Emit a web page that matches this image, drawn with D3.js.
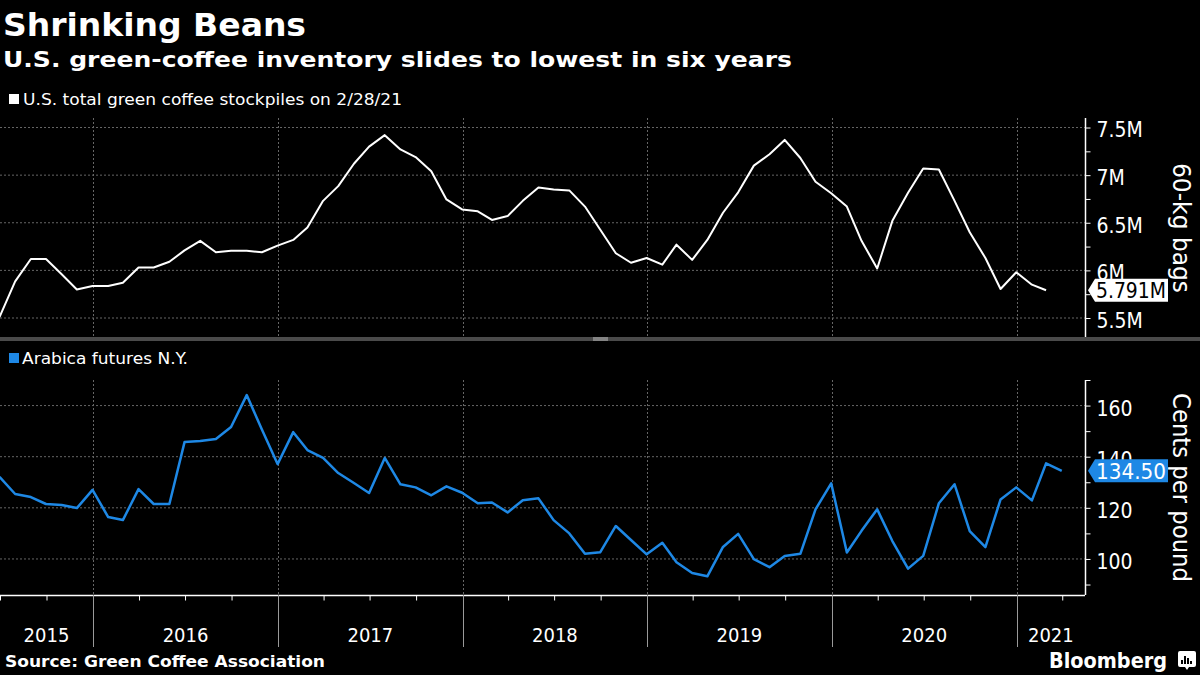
<!DOCTYPE html>
<html>
<head>
<meta charset="utf-8">
<script src="https://cdn.jsdelivr.net/npm/d3@7"></script>
<style>
  html, body { margin: 0; padding: 0; background: #000; }
  svg { display: block; }
  text { font-family: "Liberation Sans Narrow", "DejaVu Sans Condensed", "Liberation Sans", sans-serif; }
  text.dv { font-family: "DejaVu Sans", sans-serif; }
</style>
</head>
<body>
<svg id="chart" width="1200" height="675"></svg>
<script>
// ---------------- DATA ----------------
const title = "Shrinking Beans";
const subtitle = "U.S. green-coffee inventory slides to lowest in six years";
const legendTop = "U.S. total green coffee stockpiles on 2/28/21";
const legendBottom = "Arabica futures N.Y.";
const source = "Source: Green Coffee Association";
const topAxisTitle = "60-kg bags";
const bottomAxisTitle = "Cents per pound";

// month-end observations, starting June 2015
const stockStart = [2015, 5];          // June 2015 (0-based month)
const stockValues = [
  5.51, 5.885, 6.12, 6.12, 5.96, 5.80, 5.835,                       // 2015 Jun-Dec
  5.835, 5.87, 6.03, 6.03, 6.09, 6.21, 6.31, 6.19, 6.205, 6.205, 6.19, 6.26, // 2016
  6.32, 6.45, 6.73, 6.885, 7.12, 7.30, 7.42, 7.27, 7.19, 7.04, 6.745, 6.64,  // 2017
  6.62, 6.53, 6.57, 6.73, 6.87, 6.85, 6.84, 6.67, 6.43, 6.18, 6.08, 6.13,    // 2018
  6.06, 6.27, 6.11, 6.32, 6.605, 6.82, 7.10, 7.22, 7.37, 7.18, 6.93, 6.81,   // 2019
  6.67, 6.31, 6.02, 6.52, 6.815, 7.07, 7.06, 6.73, 6.40, 6.13, 5.805, 5.98,  // 2020
  5.85, 5.791                                                       // 2021 Jan-Feb
];
const arabicaStart = [2015, 5];
const arabicaValues = [
  132.1, 125.4, 124.2, 121.5, 121.1, 119.9, 127.0,                  // 2015 Jun-Dec
  116.4, 115.2, 127.3, 121.5, 121.5, 145.7, 146.1, 146.9, 151.6, 164.1, 150.6, 137.1, // 2016
  149.6, 142.6, 139.5, 133.6, 129.7, 125.8, 139.5, 129.2, 128.0, 124.9, 128.4, 125.9, // 2017
  121.8, 122.1, 118.2, 123.0, 123.7, 115.2, 110.0, 102.0, 102.6, 112.9, 107.4, 101.8, // 2018
  106.3, 98.7, 94.5, 93.2, 104.7, 109.8, 99.9, 96.8, 101.2, 102.0, 119.4, 129.6,      // 2019
  102.5, 111.0, 119.4, 107.0, 96.2, 101.2, 121.8, 129.2, 110.9, 104.6, 123.3, 128.0,  // 2020
  122.9, 137.4, 134.5                                               // 2021 Jan-Mar
];
const stockTicks = [5.5, 6, 6.5, 7, 7.5];
const stockMinorTicks = [5.75, 6.25, 6.75, 7.25];
const stockTickLabels = ["5.5M", "6M", "6.5M", "7M", "7.5M"];
const arabicaTicks = [100, 120, 140, 160];
const arabicaMinorTicks = [90, 110, 130, 150, 170];
const years = [2015, 2016, 2017, 2018, 2019, 2020, 2021];
const lastStockLabel = "5.791M";
const lastArabicaLabel = "134.50";

// ---------------- HELPERS ----------------
function monthEnd(start, i) {
  return new Date(start[0], start[1] + i + 1, 0);
}
const stockData = stockValues.map((v, i) => ({ date: monthEnd(stockStart, i), value: v }));
const arabicaData = arabicaValues.map((v, i) => ({ date: monthEnd(arabicaStart, i), value: v }));

const W = 1200, H = 675;
const plotLeft = 0, plotRight = 1085;
const topPanel = { top: 118, bottom: 338 };
const botPanel = { top: 380, bottom: 595 };
const WHITE = "#ffffff";
const BLUE = "#1e88e5";
const GRID = "#666666";

const svg = d3.select("#chart");
svg.append("rect").attr("width", W).attr("height", H).attr("fill", "#000");

const x = d3.scaleTime()
  .domain([new Date(2015, 6, 1), new Date(2021, 4, 16)])
  .range([plotLeft, plotRight]);

const yTop = d3.scaleLinear().domain([5.29, 7.6]).range([topPanel.bottom, topPanel.top]);
const yBot = d3.scaleLinear().domain([85.9, 170]).range([botPanel.bottom, botPanel.top]);

const yearStarts = years.slice(1).map(y => new Date(y, 0, 1));

function fitText(sel, width) {
  sel.each(function () {
    const w = this.getComputedTextLength();
    if (w > 0) {
      d3.select(this).attr("textLength", width).attr("lengthAdjust", "spacingAndGlyphs");
    }
  });
  return sel;
}

// ---------------- TITLES ----------------
fitText(svg.append("text").attr("class", "dv").attr("x", 3).attr("y", 36)
  .attr("fill", WHITE).attr("font-size", 32).attr("font-weight", "bold")
  .text(title), 303);
fitText(svg.append("text").attr("class", "dv").attr("x", 3).attr("y", 67)
  .attr("fill", WHITE).attr("font-size", 22).attr("font-weight", "bold")
  .text(subtitle), 789);

// legends
svg.append("rect").attr("x", 9).attr("y", 94).attr("width", 10).attr("height", 10).attr("fill", WHITE);
fitText(svg.append("text").attr("class", "dv").attr("x", 23).attr("y", 105)
  .attr("fill", WHITE).attr("font-size", 15)
  .text(legendTop), 379);
svg.append("rect").attr("x", 9).attr("y", 353).attr("width", 10).attr("height", 10).attr("fill", BLUE);
fitText(svg.append("text").attr("class", "dv").attr("x", 22).attr("y", 364)
  .attr("fill", WHITE).attr("font-size", 15)
  .text(legendBottom), 166);

// ---------------- GRIDS ----------------
function drawGrid(panel, yScale, ticks) {
  const g = svg.append("g");
  g.selectAll("line.h").data(ticks).enter().append("line")
    .attr("x1", plotLeft).attr("x2", plotRight)
    .attr("y1", d => yScale(d)).attr("y2", d => yScale(d))
    .attr("stroke", GRID).attr("stroke-width", 1).attr("stroke-dasharray", "2,2");
  g.selectAll("line.v").data(yearStarts).enter().append("line")
    .attr("x1", d => Math.round(x(d)) + 0.5).attr("x2", d => Math.round(x(d)) + 0.5)
    .attr("y1", panel.top).attr("y2", panel.bottom)
    .attr("stroke", GRID).attr("stroke-width", 1).attr("stroke-dasharray", "2,2");
}
drawGrid(topPanel, yTop, stockTicks);
drawGrid(botPanel, yBot, arabicaTicks);

// ---------------- Y AXES ----------------
function drawYAxis(panel, yScale, major, minor, labels) {
  const gMinor = svg.append("g").attr("transform", `translate(${plotRight + 0.5},0)`)
    .call(d3.axisRight(yScale).tickValues(minor).tickSize(5).tickFormat(""));
  gMinor.select(".domain").remove();
  gMinor.selectAll(".tick line").attr("stroke", WHITE);
  const g = svg.append("g").attr("transform", `translate(${plotRight + 0.5},0)`)
    .call(d3.axisRight(yScale).tickValues(major).tickSize(5).tickPadding(6)
      .tickFormat((d, i) => labels[i]));
  g.select(".domain").attr("stroke", WHITE).attr("stroke-width", 1.5)
    .attr("d", `M0,${panel.top}V${panel.bottom}`);
  g.selectAll(".tick line").attr("stroke", WHITE);
  g.selectAll(".tick text").attr("fill", WHITE).attr("font-size", 21)
    .attr("font-family", "'Liberation Sans Narrow', 'DejaVu Sans Condensed', sans-serif")
    .attr("dy", "0.45em");
  return g;
}
drawYAxis(topPanel, yTop, stockTicks, stockMinorTicks, stockTickLabels);
drawYAxis(botPanel, yBot, arabicaTicks, arabicaMinorTicks, arabicaTicks.map(String));

// axis titles (rotated clockwise)
fitText(svg.append("text")
  .attr("transform", `translate(1173, ${(163 + 293) / 2}) rotate(90)`)
  .attr("text-anchor", "middle").attr("fill", WHITE).attr("font-size", 25)
  .text(topAxisTitle), 130);
fitText(svg.append("text")
  .attr("transform", `translate(1173, ${(393 + 582) / 2}) rotate(90)`)
  .attr("text-anchor", "middle").attr("fill", WHITE).attr("font-size", 25)
  .text(bottomAxisTitle), 189);

// ---------------- LINES ----------------
svg.append("path").datum(stockData)
  .attr("fill", "none").attr("stroke", WHITE).attr("stroke-width", 2)
  .attr("stroke-linejoin", "round")
  .attr("d", d3.line().x(d => x(d.date)).y(d => yTop(d.value)));

svg.append("path").datum(arabicaData)
  .attr("fill", "none").attr("stroke", BLUE).attr("stroke-width", 2.5)
  .attr("stroke-linejoin", "round")
  .attr("d", d3.line().x(d => x(d.date)).y(d => yBot(d.value)));

// ---------------- LAST VALUE TAGS ----------------
function tag(yPos, label, bg, fg) {
  const g = svg.append("g");
  const left = 1095, right = 1168, h = 23;
  g.append("path")
    .attr("d", `M${1088},${yPos} L${left},${yPos - h / 2} L${right},${yPos - h / 2} L${right},${yPos + h / 2} L${left},${yPos + h / 2} Z`)
    .attr("fill", bg);
  fitText(g.append("text").attr("x", left + 1).attr("y", yPos + 8)
    .attr("fill", fg).attr("font-size", 22).text(label), right - left - 3);
}
tag(yTop(stockValues[stockValues.length - 1]), lastStockLabel, WHITE, "#000");
tag(yBot(arabicaValues[arabicaValues.length - 1]), lastArabicaLabel, BLUE, WHITE);

// ---------------- PANEL SEPARATOR ----------------
svg.append("rect").attr("x", 0).attr("y", 337).attr("width", W).attr("height", 4).attr("fill", "#4a4a4a");
svg.append("rect").attr("x", 593).attr("y", 337.5).attr("width", 15).attr("height", 1).attr("fill", "#bbbbbb");
svg.append("rect").attr("x", 593).attr("y", 339.5).attr("width", 15).attr("height", 1).attr("fill", "#bbbbbb");

// ---------------- X AXIS ----------------
const quarterTicks = d3.timeMonth.range(new Date(2015, 6, 1), new Date(2021, 4, 16), 3)
  .filter(d => d.getMonth() !== 0);
const gx = svg.append("g").attr("transform", `translate(0,${botPanel.bottom + 0.5})`)
  .call(d3.axisBottom(x).tickValues(quarterTicks).tickSize(5).tickFormat(""));
gx.select(".domain").attr("stroke", WHITE).attr("stroke-width", 1.5)
  .attr("d", `M${plotLeft},0H${plotRight}`);
gx.selectAll(".tick line").attr("stroke", WHITE);

// year separators
svg.append("g").selectAll("line").data(yearStarts).enter().append("line")
  .attr("x1", d => Math.round(x(d)) + 0.5).attr("x2", d => Math.round(x(d)) + 0.5)
  .attr("y1", botPanel.bottom).attr("y2", 647)
  .attr("stroke", "#9a9a9a").attr("stroke-width", 1);

// year labels centred in visible year segment
svg.append("g").selectAll("text").data(years).enter().append("text")
  .attr("x", d => {
    const a = Math.max(x(new Date(d, 0, 1)), plotLeft);
    const b = Math.min(x(new Date(d + 1, 0, 1)), plotRight);
    return (a + b) / 2;
  })
  .attr("y", 642).attr("text-anchor", "middle")
  .attr("fill", WHITE).attr("font-size", 20)
  .text(d => d);

// ---------------- FOOTER ----------------
fitText(svg.append("text").attr("class", "dv").attr("x", 5).attr("y", 667)
  .attr("fill", WHITE).attr("font-size", 16.5).attr("font-weight", "bold")
  .text(source), 320);
fitText(svg.append("text").attr("x", 1049).attr("y", 668)
  .attr("fill", WHITE).attr("font-size", 22).attr("font-weight", "bold")
  .attr("font-family", "'Liberation Sans', Arial, sans-serif")
  .text("Bloomberg"), 118);
// logo mark
const lg = svg.append("g").attr("transform", "translate(1178,651)");
lg.append("path").attr("d", "M2,0 H16 Q18,0 18,2 V14 Q18,16 16,16 H11 L9,19 L7,16 H2 Q0,16 0,14 V2 Q0,0 2,0 Z").attr("fill", WHITE);
[[4, 9, 2], [7, 5, 2], [10, 7, 2], [13, 10, 2]].forEach(([bx, by, bw]) => {
  lg.append("rect").attr("x", bx - 1).attr("y", by).attr("width", bw).attr("height", 13 - by).attr("fill", "#000");
});
</script>
</body>
</html>
